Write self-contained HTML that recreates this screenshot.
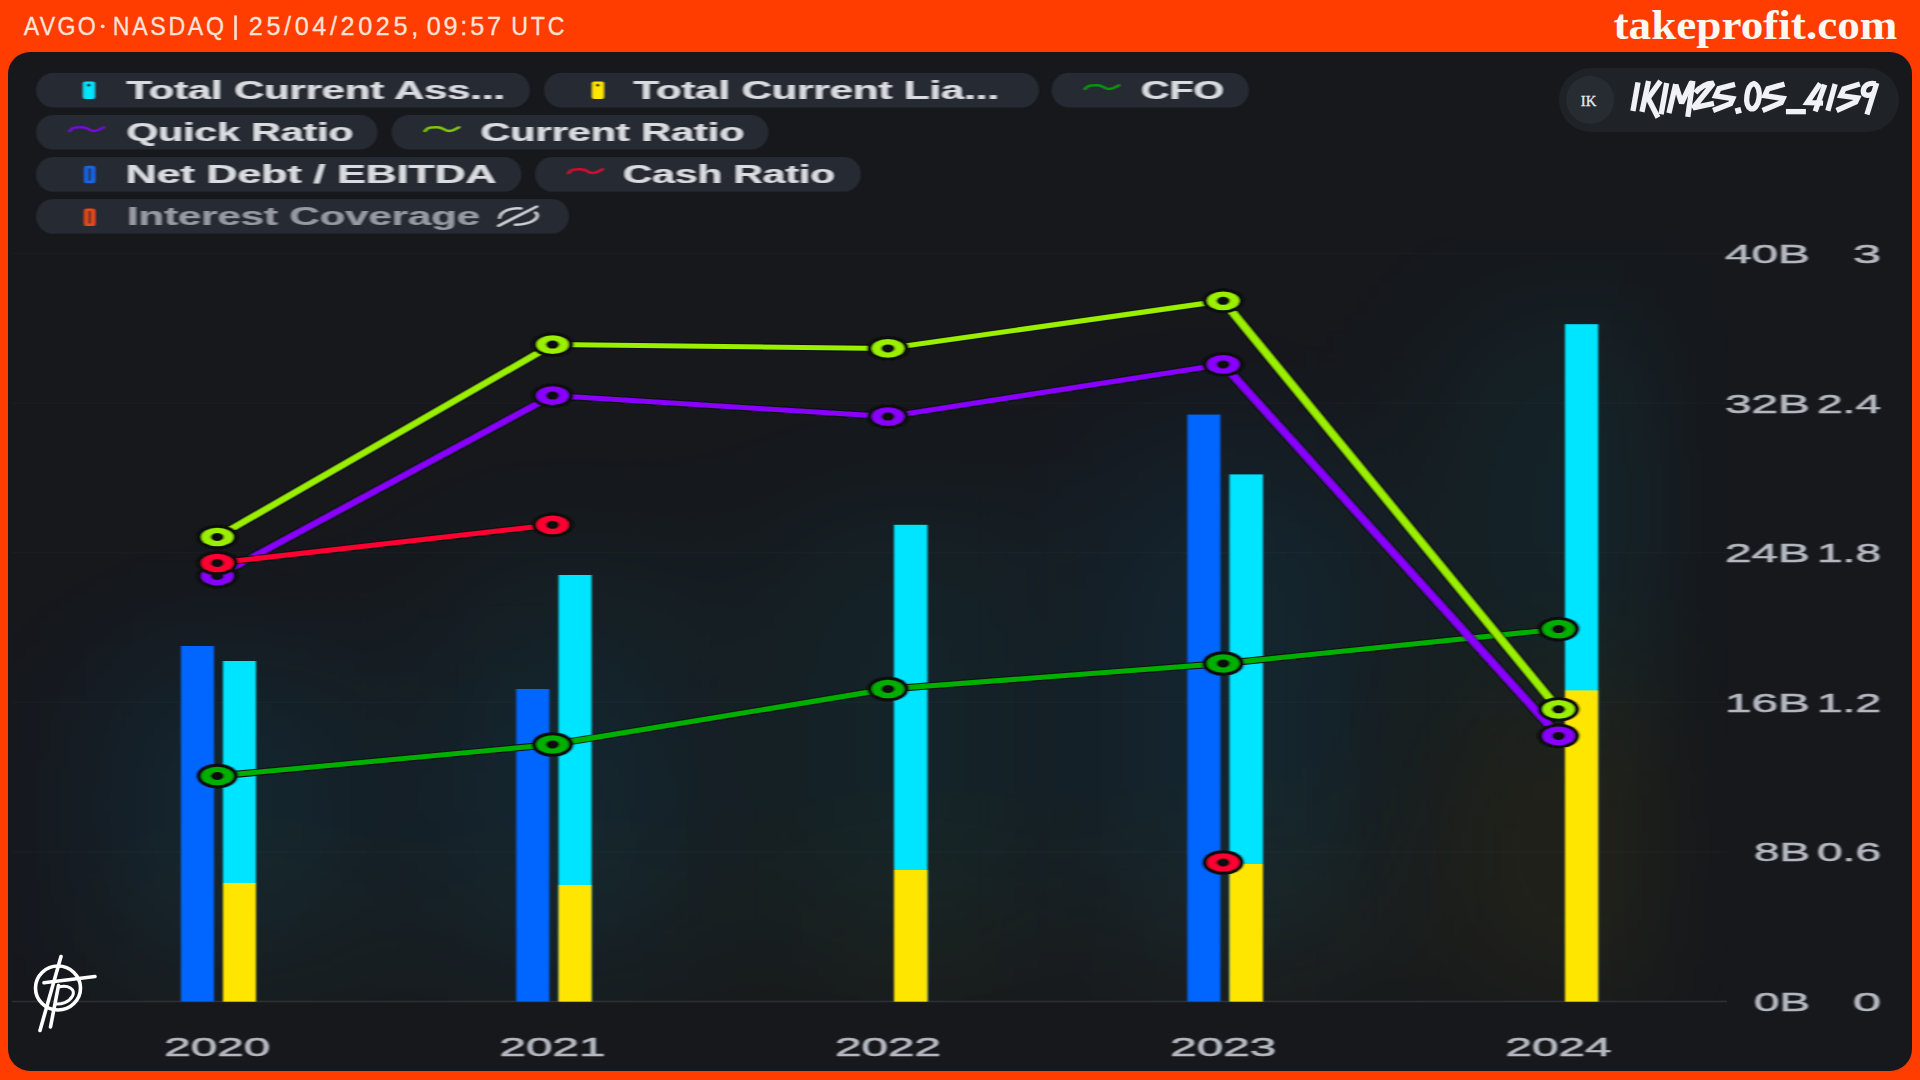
<!DOCTYPE html>
<html><head><meta charset="utf-8"><title>AVGO chart</title>
<style>
html,body{margin:0;padding:0;}
body{width:1920px;height:1080px;overflow:hidden;background:#ff3d00;position:relative;font-family:"Liberation Sans",sans-serif;}
#panel{position:absolute;left:8px;top:52px;width:1904px;height:1019px;border-radius:22px;background:#16181c;}
svg{position:absolute;left:0;top:0;}
text{font-family:"Liberation Sans",sans-serif;}
.serif{font-family:"Liberation Serif",serif;}
</style></head><body>
<div id="panel"></div>
<svg width="1920" height="1080" viewBox="0 0 1920 1080">
<defs>
<filter id="glow" filterUnits="userSpaceOnUse" x="-400" y="-200" width="2800" height="1600"><feGaussianBlur stdDeviation="110 75"/></filter>
<filter id="soft" x="-5%" y="-5%" width="110%" height="110%"><feGaussianBlur stdDeviation="0.9 0.6"/></filter>
<clipPath id="plot"><rect x="12" y="236" width="1716" height="765.5"/></clipPath>
<linearGradient id="fadeR" gradientUnits="userSpaceOnUse" x1="1600" y1="0" x2="1728" y2="0"><stop offset="0" stop-color="#fff"/><stop offset="1" stop-color="#fff" stop-opacity="0.15"/></linearGradient>
<mask id="plotmask" maskUnits="userSpaceOnUse" x="0" y="0" width="1920" height="1080"><rect x="12" y="236" width="1716" height="765.5" fill="url(#fadeR)"/></mask>
</defs>

<g transform="translate(23.8,0) scale(0.87,1)"><text x="0" y="35.3" font-size="26.6" fill="#ffe3d8" stroke="#ffe3d8" stroke-width="0.3" textLength="82.8" lengthAdjust="spacing">AVGO</text></g>
<g transform="translate(112.8,0) scale(0.87,1)"><text x="0" y="35.3" font-size="26.6" fill="#ffe3d8" stroke="#ffe3d8" stroke-width="0.3" textLength="127.8" lengthAdjust="spacing">NASDAQ</text></g>
<g transform="translate(248.8,0) scale(0.95,1)"><text x="0" y="35.3" font-size="26.6" fill="#ffe3d8" stroke="#ffe3d8" stroke-width="0.3" textLength="178.3" lengthAdjust="spacing">25/04/2025,</text></g>
<g transform="translate(426.8,0) scale(0.95,1)"><text x="0" y="35.3" font-size="26.6" fill="#ffe3d8" stroke="#ffe3d8" stroke-width="0.3" textLength="78.1" lengthAdjust="spacing">09:57</text></g>
<g transform="translate(511.3,0) scale(0.87,1)"><text x="0" y="35.3" font-size="26.6" fill="#ffe3d8" stroke="#ffe3d8" stroke-width="0.3" textLength="61.1" lengthAdjust="spacing">UTC</text></g>
<circle cx="102.7" cy="26.3" r="1.9" fill="#ffe3d8"/>
<text class="serif" x="1613.5" y="39" font-size="43" font-weight="bold" fill="#fff7f2" textLength="284" lengthAdjust="spacingAndGlyphs">takeprofit.com</text>
<rect x="234.2" y="15.4" width="2.6" height="24.6" fill="#ffe3d8"/>
<g mask="url(#plotmask)"><g filter="url(#glow)" opacity="0.5"><rect x="223.0" y="661.0" width="33.0" height="293.1" fill="#00e5ff" fill-opacity="1.00"/><rect x="558.6" y="575.0" width="33.0" height="379.9" fill="#00e5ff" fill-opacity="1.00"/><rect x="894.0" y="524.8" width="33.5" height="411.0" fill="#00e5ff" fill-opacity="1.00"/><rect x="1229.5" y="474.4" width="33.5" height="451.5" fill="#00e5ff" fill-opacity="1.00"/><rect x="1565.0" y="324.2" width="33.2" height="366.2" fill="#00e5ff" fill-opacity="1.00"/></g><g filter="url(#glow)" opacity="0.25"><rect x="181.0" y="646.0" width="33.0" height="355.5" fill="#0066ff" fill-opacity="1.00"/><rect x="516.3" y="689.0" width="33.0" height="312.5" fill="#0066ff" fill-opacity="1.00"/><rect x="1187.4" y="414.6" width="33.0" height="586.9" fill="#0066ff" fill-opacity="1.00"/></g><g filter="url(#glow)" opacity="0.42"><rect x="223.0" y="883.0" width="33.0" height="118.5" fill="#ffe600" fill-opacity="0.45"/><rect x="558.6" y="885.0" width="33.0" height="116.5" fill="#ffe600" fill-opacity="0.45"/><rect x="894.0" y="870.0" width="33.5" height="131.5" fill="#ffe600" fill-opacity="0.60"/><rect x="1229.5" y="864.0" width="33.5" height="137.5" fill="#ffe600" fill-opacity="0.70"/><rect x="1565.0" y="690.4" width="33.2" height="311.1" fill="#ffe600" fill-opacity="1.00"/></g></g>
<rect x="12" y="252.7" width="1715" height="1.6" fill="#fff" opacity="0.020"/>
<rect x="12" y="402.3" width="1715" height="1.6" fill="#fff" opacity="0.020"/>
<rect x="12" y="551.9" width="1715" height="1.6" fill="#fff" opacity="0.020"/>
<rect x="12" y="701.5" width="1715" height="1.6" fill="#fff" opacity="0.020"/>
<rect x="12" y="851.1" width="1715" height="1.6" fill="#fff" opacity="0.020"/>
<rect x="12" y="1000.7" width="1715" height="1.6" fill="#fff" opacity="0.100"/>
<g filter="url(#soft)">
<rect x="181.0" y="646.0" width="33.0" height="355.5" fill="#0066ff"/><rect x="516.3" y="689.0" width="33.0" height="312.5" fill="#0066ff"/><rect x="1187.4" y="414.6" width="33.0" height="586.9" fill="#0066ff"/><rect x="223.0" y="661.0" width="33.0" height="340.5" fill="#00e5ff"/><rect x="558.6" y="575.0" width="33.0" height="426.5" fill="#00e5ff"/><rect x="894.0" y="524.8" width="33.5" height="476.7" fill="#00e5ff"/><rect x="1229.5" y="474.4" width="33.5" height="527.1" fill="#00e5ff"/><rect x="1565.0" y="324.2" width="33.2" height="677.3" fill="#00e5ff"/><rect x="223.0" y="883.0" width="33.0" height="118.5" fill="#ffe600"/><rect x="558.6" y="885.0" width="33.0" height="116.5" fill="#ffe600"/><rect x="894.0" y="870.0" width="33.5" height="131.5" fill="#ffe600"/><rect x="1229.5" y="864.0" width="33.5" height="137.5" fill="#ffe600"/><rect x="1565.0" y="690.4" width="33.2" height="311.1" fill="#ffe600"/>
<g transform="scale(1.71,1)" fill="none" stroke-linecap="butt" stroke-linejoin="round">
<polyline points="127.08,776.00 323.16,744.50 519.30,689.00 715.32,663.50 911.46,629.10" stroke="#0c0e10" stroke-width="7.0"/>
<polyline points="127.08,776.00 323.16,744.50 519.30,689.00 715.32,663.50 911.46,629.10" stroke="#00b000" stroke-width="5.0"/>
<circle cx="127.08" cy="776.00" r="12.35" fill="#0c0e10" stroke="none"/>
<circle cx="127.08" cy="776.00" r="9.35" fill="#00b000" stroke="none"/>
<circle cx="127.08" cy="776.00" r="4.00" fill="#0c0e10" stroke="none"/>
<circle cx="323.16" cy="744.50" r="12.35" fill="#0c0e10" stroke="none"/>
<circle cx="323.16" cy="744.50" r="9.35" fill="#00b000" stroke="none"/>
<circle cx="323.16" cy="744.50" r="4.00" fill="#0c0e10" stroke="none"/>
<circle cx="519.30" cy="689.00" r="12.35" fill="#0c0e10" stroke="none"/>
<circle cx="519.30" cy="689.00" r="9.35" fill="#00b000" stroke="none"/>
<circle cx="519.30" cy="689.00" r="4.00" fill="#0c0e10" stroke="none"/>
<circle cx="715.32" cy="663.50" r="12.35" fill="#0c0e10" stroke="none"/>
<circle cx="715.32" cy="663.50" r="9.35" fill="#00b000" stroke="none"/>
<circle cx="715.32" cy="663.50" r="4.00" fill="#0c0e10" stroke="none"/>
<circle cx="911.46" cy="629.10" r="12.35" fill="#0c0e10" stroke="none"/>
<circle cx="911.46" cy="629.10" r="9.35" fill="#00b000" stroke="none"/>
<circle cx="911.46" cy="629.10" r="4.00" fill="#0c0e10" stroke="none"/>
<polyline points="127.08,576.00 323.16,395.60 519.30,416.60 715.32,364.40 911.46,735.90" stroke="#0c0e10" stroke-width="7.0"/>
<polyline points="127.08,576.00 323.16,395.60 519.30,416.60 715.32,364.40 911.46,735.90" stroke="#8a00ff" stroke-width="5.0"/>
<circle cx="127.08" cy="576.00" r="12.35" fill="#0c0e10" stroke="none"/>
<circle cx="127.08" cy="576.00" r="9.35" fill="#8a00ff" stroke="none"/>
<circle cx="127.08" cy="576.00" r="4.00" fill="#0c0e10" stroke="none"/>
<circle cx="323.16" cy="395.60" r="12.35" fill="#0c0e10" stroke="none"/>
<circle cx="323.16" cy="395.60" r="9.35" fill="#8a00ff" stroke="none"/>
<circle cx="323.16" cy="395.60" r="4.00" fill="#0c0e10" stroke="none"/>
<circle cx="519.30" cy="416.60" r="12.35" fill="#0c0e10" stroke="none"/>
<circle cx="519.30" cy="416.60" r="9.35" fill="#8a00ff" stroke="none"/>
<circle cx="519.30" cy="416.60" r="4.00" fill="#0c0e10" stroke="none"/>
<circle cx="715.32" cy="364.40" r="12.35" fill="#0c0e10" stroke="none"/>
<circle cx="715.32" cy="364.40" r="9.35" fill="#8a00ff" stroke="none"/>
<circle cx="715.32" cy="364.40" r="4.00" fill="#0c0e10" stroke="none"/>
<circle cx="911.46" cy="735.90" r="12.35" fill="#0c0e10" stroke="none"/>
<circle cx="911.46" cy="735.90" r="9.35" fill="#8a00ff" stroke="none"/>
<circle cx="911.46" cy="735.90" r="4.00" fill="#0c0e10" stroke="none"/>
<polyline points="127.08,537.00 323.16,344.60 519.30,348.40 715.32,300.80 911.46,709.30" stroke="#0c0e10" stroke-width="7.0"/>
<polyline points="127.08,537.00 323.16,344.60 519.30,348.40 715.32,300.80 911.46,709.30" stroke="#9bef00" stroke-width="5.0"/>
<circle cx="127.08" cy="537.00" r="12.35" fill="#0c0e10" stroke="none"/>
<circle cx="127.08" cy="537.00" r="9.35" fill="#9bef00" stroke="none"/>
<circle cx="127.08" cy="537.00" r="4.00" fill="#0c0e10" stroke="none"/>
<circle cx="323.16" cy="344.60" r="12.35" fill="#0c0e10" stroke="none"/>
<circle cx="323.16" cy="344.60" r="9.35" fill="#9bef00" stroke="none"/>
<circle cx="323.16" cy="344.60" r="4.00" fill="#0c0e10" stroke="none"/>
<circle cx="519.30" cy="348.40" r="12.35" fill="#0c0e10" stroke="none"/>
<circle cx="519.30" cy="348.40" r="9.35" fill="#9bef00" stroke="none"/>
<circle cx="519.30" cy="348.40" r="4.00" fill="#0c0e10" stroke="none"/>
<circle cx="715.32" cy="300.80" r="12.35" fill="#0c0e10" stroke="none"/>
<circle cx="715.32" cy="300.80" r="9.35" fill="#9bef00" stroke="none"/>
<circle cx="715.32" cy="300.80" r="4.00" fill="#0c0e10" stroke="none"/>
<circle cx="911.46" cy="709.30" r="12.35" fill="#0c0e10" stroke="none"/>
<circle cx="911.46" cy="709.30" r="9.35" fill="#9bef00" stroke="none"/>
<circle cx="911.46" cy="709.30" r="4.00" fill="#0c0e10" stroke="none"/>
<polyline points="127.08,563.00 323.16,524.80" stroke="#0c0e10" stroke-width="7.0"/>
<polyline points="127.08,563.00 323.16,524.80" stroke="#ff0033" stroke-width="5.0"/>
<circle cx="127.08" cy="563.00" r="12.35" fill="#0c0e10" stroke="none"/>
<circle cx="127.08" cy="563.00" r="9.35" fill="#ff0033" stroke="none"/>
<circle cx="127.08" cy="563.00" r="4.00" fill="#0c0e10" stroke="none"/>
<circle cx="323.16" cy="524.80" r="12.35" fill="#0c0e10" stroke="none"/>
<circle cx="323.16" cy="524.80" r="9.35" fill="#ff0033" stroke="none"/>
<circle cx="323.16" cy="524.80" r="4.00" fill="#0c0e10" stroke="none"/>
<circle cx="715.32" cy="862.50" r="12.35" fill="#0c0e10" stroke="none"/>
<circle cx="715.32" cy="862.50" r="9.35" fill="#ff0033" stroke="none"/>
<circle cx="715.32" cy="862.50" r="4.00" fill="#0c0e10" stroke="none"/>
</g>
</g>
<g filter="url(#soft)" fill="#b4b8c0" stroke="#b4b8c0" stroke-width="0.55" font-size="25.4">
<text x="1725.0" y="263.0" textLength="85" lengthAdjust="spacingAndGlyphs">40B</text>
<text x="1853.0" y="263.0" textLength="28" lengthAdjust="spacingAndGlyphs">3</text>
<text x="1725.0" y="412.6" textLength="85" lengthAdjust="spacingAndGlyphs">32B</text>
<text x="1817.0" y="412.6" textLength="64" lengthAdjust="spacingAndGlyphs">2.4</text>
<text x="1725.0" y="562.2" textLength="85" lengthAdjust="spacingAndGlyphs">24B</text>
<text x="1817.0" y="562.2" textLength="64" lengthAdjust="spacingAndGlyphs">1.8</text>
<text x="1725.0" y="711.8" textLength="85" lengthAdjust="spacingAndGlyphs">16B</text>
<text x="1817.0" y="711.8" textLength="64" lengthAdjust="spacingAndGlyphs">1.2</text>
<text x="1754.0" y="861.4" textLength="56" lengthAdjust="spacingAndGlyphs">8B</text>
<text x="1817.0" y="861.4" textLength="64" lengthAdjust="spacingAndGlyphs">0.6</text>
<text x="1754.0" y="1011.0" textLength="56" lengthAdjust="spacingAndGlyphs">0B</text>
<text x="1853.0" y="1011.0" textLength="28" lengthAdjust="spacingAndGlyphs">0</text>
<text x="164.3" y="1056" textLength="106" lengthAdjust="spacingAndGlyphs">2020</text>
<text x="499.6" y="1056" textLength="106" lengthAdjust="spacingAndGlyphs">2021</text>
<text x="835.0" y="1056" textLength="106" lengthAdjust="spacingAndGlyphs">2022</text>
<text x="1170.2" y="1056" textLength="106" lengthAdjust="spacingAndGlyphs">2023</text>
<text x="1505.6" y="1056" textLength="106" lengthAdjust="spacingAndGlyphs">2024</text>
</g>
<g filter="url(#soft)">
<rect x="36.0" y="72.8" width="494.0" height="34.8" rx="17.4" fill="#252a31"/>
<rect x="544.0" y="72.8" width="495.0" height="34.8" rx="17.4" fill="#252a31"/>
<rect x="1051.5" y="72.8" width="197.5" height="34.8" rx="17.4" fill="#252a31"/>
<rect x="36.0" y="115.0" width="341.5" height="34.5" rx="17.2" fill="#252a31"/>
<rect x="391.5" y="115.0" width="377.0" height="34.5" rx="17.2" fill="#252a31"/>
<rect x="36.0" y="157.0" width="485.5" height="34.7" rx="17.3" fill="#252a31"/>
<rect x="535.0" y="157.0" width="326.0" height="34.7" rx="17.3" fill="#252a31"/>
<rect x="36.0" y="199.0" width="533.0" height="34.7" rx="17.3" fill="#252a31"/>
<text x="126.5" y="98.8" font-size="25.4" font-weight="bold" fill="#d9dce1" textLength="378.5" lengthAdjust="spacingAndGlyphs">Total Current Ass...</text>
<text x="633.5" y="98.8" font-size="25.4" font-weight="bold" fill="#d9dce1" textLength="365.5" lengthAdjust="spacingAndGlyphs">Total Current Lia...</text>
<text x="1141.0" y="98.8" font-size="25.4" font-weight="bold" fill="#d9dce1" textLength="83.0" lengthAdjust="spacingAndGlyphs">CFO</text>
<text x="126.5" y="140.8" font-size="25.4" font-weight="bold" fill="#d9dce1" textLength="227.0" lengthAdjust="spacingAndGlyphs">Quick Ratio</text>
<text x="480.5" y="140.8" font-size="25.4" font-weight="bold" fill="#d9dce1" textLength="264.0" lengthAdjust="spacingAndGlyphs">Current Ratio</text>
<text x="125.8" y="182.8" font-size="25.4" font-weight="bold" fill="#d9dce1" textLength="370.7" lengthAdjust="spacingAndGlyphs">Net Debt / EBITDA</text>
<text x="623.0" y="182.8" font-size="25.4" font-weight="bold" fill="#d9dce1" textLength="212.0" lengthAdjust="spacingAndGlyphs">Cash Ratio</text>
<text x="127.0" y="224.8" font-size="25.4" font-weight="bold" fill="#959aa3" textLength="353.0" lengthAdjust="spacingAndGlyphs">Interest Coverage</text>
<rect x="83.3" y="81.5" width="11.4" height="17.5" rx="2" fill="#00e5ff"/>
<ellipse cx="88.7" cy="85.2" rx="1.8" ry="1.4" fill="#0c0e10"/>
<rect x="592.3" y="81.5" width="11.4" height="17.5" rx="2" fill="#ffe600"/>
<ellipse cx="597.7" cy="85.2" rx="1.8" ry="1.4" fill="#0c0e10"/>
<path d="M1085.0 89.0 c 3.3 -4, 6.3 -3.8, 12.3 -3.8 s 7 3.8, 12 3.8 s 6 -2, 9.6 -3.7" fill="none" stroke="#00b000" stroke-width="2.4" stroke-linecap="round" opacity="0.8"/>
<path d="M69.7 131.0 c 3.3 -4, 6.3 -3.8, 12.3 -3.8 s 7 3.8, 12 3.8 s 6 -2, 9.6 -3.7" fill="none" stroke="#8a00ff" stroke-width="2.4" stroke-linecap="round" opacity="0.8"/>
<path d="M425.0 131.0 c 3.3 -4, 6.3 -3.8, 12.3 -3.8 s 7 3.8, 12 3.8 s 6 -2, 9.6 -3.7" fill="none" stroke="#9bef00" stroke-width="2.4" stroke-linecap="round" opacity="0.8"/>
<rect x="84.3" y="165.7" width="10.8" height="17.6" rx="2.6" fill="#1466e8"/>
<rect x="88.3" y="168.2" width="2.8" height="12.6" rx="1" fill="#252a31" opacity="0.8"/>
<path d="M568.5 173.0 c 3.3 -4, 6.3 -3.8, 12.3 -3.8 s 7 3.8, 12 3.8 s 6 -2, 9.6 -3.7" fill="none" stroke="#ff0033" stroke-width="2.4" stroke-linecap="round" opacity="0.8"/>
<rect x="84.3" y="208.5" width="10.8" height="17.6" rx="2.6" fill="#e84a18"/>
<rect x="88.3" y="211.0" width="2.8" height="12.6" rx="1" fill="#252a31" opacity="0.8"/>
<g fill="none" stroke="#cdd1d8" stroke-width="2.5" stroke-linecap="round"><path d="M521 208.4 C 512 207.3, 500.5 211, 499.6 217.8"/><path d="M535.5 212.6 C 541.5 216.5, 533 224.3, 515.4 224.8"/><path d="M498.5 225.8 L536.8 206.5"/></g>
</g>
<rect x="1559" y="68" width="340" height="64" rx="32" fill="#1f2328"/>
<circle cx="1590.2" cy="99.8" r="24" fill="#272c33"/>
<text class="serif" x="1580.8" y="106" font-size="15.6" fill="#e8eaee" stroke="#e8eaee" stroke-width="0.3" textLength="15.6" lengthAdjust="spacingAndGlyphs">IK</text>
<g transform="translate(1620,70) scale(0.140625)" fill="none" stroke="#f1f2f5" stroke-width="38" stroke-linecap="butt" stroke-linejoin="miter" stroke-miterlimit="2.2">
<path d="M128 88 L92 292"/>
<path d="M203 78 L156 298"/>
<path d="M288 78 L200 200 L270 338"/>
<path d="M332 92 L292 314"/>
<path d="M396 100 L348 306"/>
<path d="M396 104 L438 236 L510 84"/>
<path d="M518 78 L482 334"/>
<path d="M536 162 C 570 120, 620 96, 664 94 L 520 270 L 668 238"/>
<path d="M818 102 L704 132 L680 184 L802 204 L786 240 L662 288"/>
<path d="M952 96 C 900 110, 880 250, 930 276 C 990 290, 1020 120, 952 96 Z"/>
<path d="M1170 100 L1052 134 L1030 182 L1160 202 L1146 232 L1014 288"/>
<path d="M1180 296 L1322 296"/>
<path d="M1424 96 L1332 232 L1444 236"/>
<path d="M1456 104 L1388 294"/>
<path d="M1530 100 L1478 290"/>
<path d="M1706 100 L1592 134 L1570 182 L1690 198 L1676 228 L1540 288"/>
<path d="M1818 98 C 1770 86, 1732 112, 1730 150 C 1730 188, 1780 188, 1806 160"/>
<path d="M1826 92 L1756 316"/>
<rect x="820" y="268" width="42" height="42" fill="#f1f2f5" stroke="none" transform="rotate(-15 841 289)"/>
</g>
<g fill="none" stroke="#fff" stroke-width="3.6" stroke-linecap="round">
<ellipse cx="58" cy="988" rx="22.5" ry="22"/>
<path d="M61 956.5 L40 1030.5"/>
<path d="M44 982.8 L95 976.5"/>
<path d="M58.5 985.5 L50.5 1027"/>
<path d="M58.5 987 C 68 984.5, 76 989, 72.5 996 C 69 1002.5, 61 1004.5, 55.8 1004" stroke-width="3"/>
</g>
</svg></body></html>
